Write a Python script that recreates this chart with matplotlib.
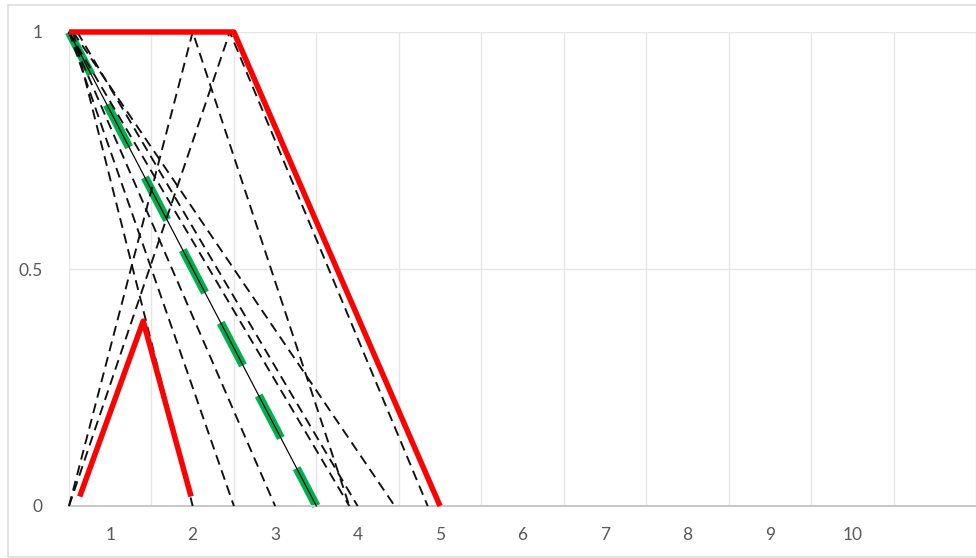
import matplotlib
matplotlib.use("Agg")
import matplotlib.pyplot as plt
from matplotlib.patches import Rectangle

plt.rcParams['font.family'] = ['Lato', 'DejaVu Sans']
plt.rcParams['lines.scale_dashes'] = False

# ---- data ----
x_ticks = [1, 2, 3, 4, 5, 6, 7, 8, 9, 10]
y_ticks = [0, 0.5, 1]
y_tick_labels = ["0", "0.5", "1"]

# red fuzzy numbers
red_trap_x = [0.5, 2.5, 5.0]
red_trap_y = [1, 1, 0]
red_tri_x = [0.63, 1.4, 1.98]
red_tri_y = [0.02, 0.39, 0.02]

# green dashed line
green_x = [0.5, 3.5]
green_y = [1, 0]

# black dashed lines
black_a_x = [0.5, 2.0, 3.9]
black_a_y = [0, 1, 0]
black_b_x = [0.5, 2.45, 4.85]
black_b_y = [0, 1, 0]
black_c_x = [0.55, 2.0]
black_c_y = [1, 0]
black_d_x = [0.5, 2.5]
black_d_y = [1, 0]
black_e_x = [0.5, 3.0]
black_e_y = [1, 0]
black_g_x = [0.5, 3.9]
black_g_y = [1, 0]
black_h_x = [0.6, 4.0]
black_h_y = [1, 0]
black_i_x = [0.55, 4.45]
black_i_y = [1, 0]
black_f_x = [0.5, 3.5]
black_f_y = [1, 0]

fig = plt.figure(figsize=(9.76, 5.58), dpi=100)
ax = fig.add_axes([69/976, 52/558, 907/976, 474/558])

px = 0.72  # points per pixel

# grid
ax.set_xlim(0.5, 11.5)
ax.set_ylim(0, 1)
ax.set_xticks(x_ticks)
ax.set_xticks([0.5 + k for k in range(12)], minor=True)
ax.set_yticks(y_ticks)
ax.set_yticklabels(y_tick_labels)
ax.grid(True, which='minor', axis='x', color='#E6E6E6', linewidth=1.4*px)
ax.grid(True, which='major', axis='y', color='#E6E6E6', linewidth=1.4*px)
ax.grid(False, which='major', axis='x')
ax.tick_params(axis='both', which='both', length=0)
ax.tick_params(axis='x', which='major', pad=15, labelsize=12.5, labelcolor='#595959')
ax.tick_params(axis='y', which='major', pad=19, labelsize=12.5, labelcolor='#595959')
for s in ['top', 'right', 'left']:
    ax.spines[s].set_visible(False)
ax.spines['bottom'].set_color('#C8C8C8')
ax.spines['bottom'].set_linewidth(2*px)
ax.set_axisbelow(True)

blk = dict(color='#111111', linewidth=1.9*px, dashes=(10*px, 6*px),
           zorder=3, clip_on=False)
for xs, ys in [(black_a_x, black_a_y), (black_b_x, black_b_y),
               (black_c_x, black_c_y), (black_d_x, black_d_y),
               (black_e_x, black_e_y), (black_g_x, black_g_y),
               (black_h_x, black_h_y), (black_i_x, black_i_y)]:
    ax.plot(xs, ys, **blk)

gl, = ax.plot(green_x, green_y, color='#00B050', linewidth=8.5*px,
              solid_capstyle='butt', dash_capstyle='butt',
              zorder=2, clip_on=False)
gl.set_linestyle((0, (48*px, 34*px)))
ax.plot(black_f_x, black_f_y, color='black', linewidth=1.2*px, zorder=3,
        clip_on=False)

ax.plot(red_trap_x, red_trap_y, color='#FF0000', linewidth=5.5*px,
        zorder=4, clip_on=False, solid_capstyle='butt')
ax.plot(red_tri_x, red_tri_y, color='#FF0000', linewidth=5.5*px,
        zorder=4, clip_on=False, solid_capstyle='butt')

# chart border
fig.patches.append(Rectangle((8/976, 1/558), 1.0, (557-5)/558,
                             transform=fig.transFigure, fill=False,
                             edgecolor='#D9D9D9', linewidth=1.5*px))

fig.savefig('out.png', dpi=100)
